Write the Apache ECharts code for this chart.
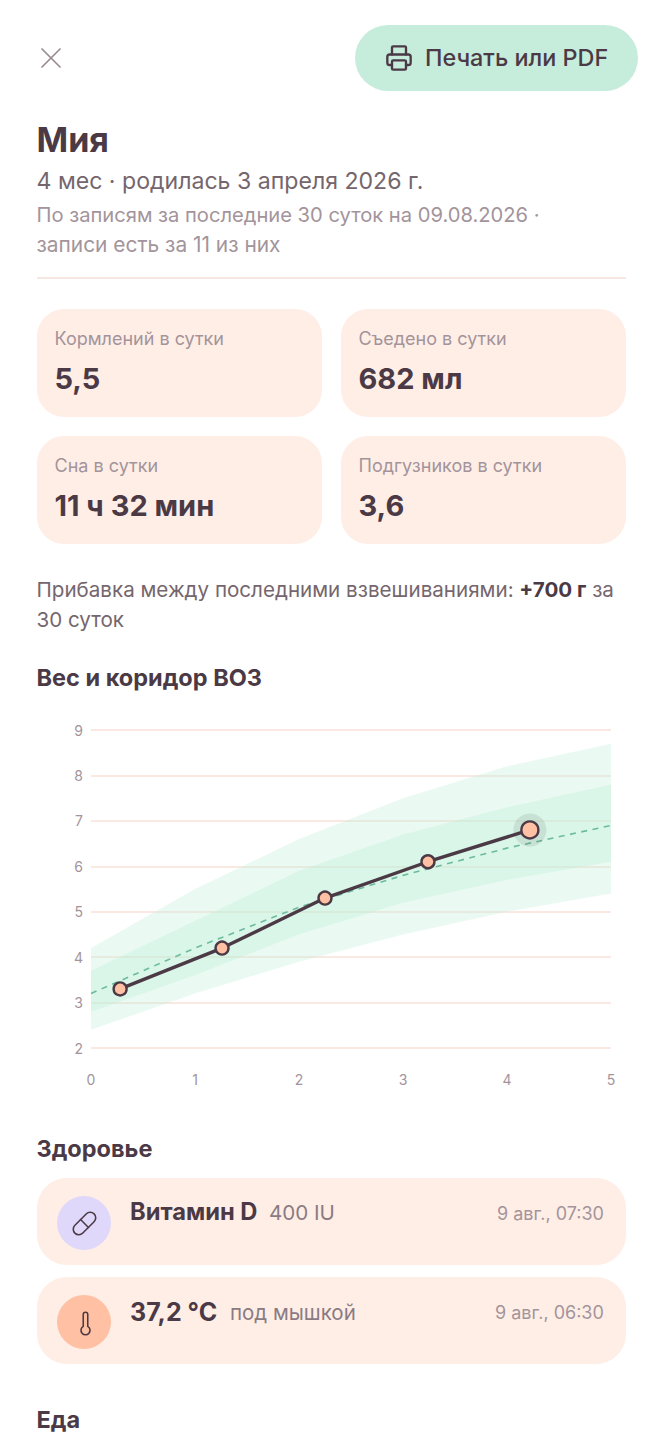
<!DOCTYPE html>
<html lang="ru"><head><meta charset="utf-8">
<script src="https://cdn.jsdelivr.net/npm/echarts@6/dist/echarts.min.js"></script>
<style>
html,body{margin:0;padding:0;background:#fff;width:662px;height:1440px;overflow:hidden;font-family:Inter,"Noto Sans",sans-serif;color:#4b3a45}
.t{position:absolute;white-space:nowrap;line-height:1}
.b{position:absolute;background:#ffeee6}
.card{width:285px;height:108px;border-radius:27px}
.row{left:36.5px;width:589.5px;height:87px;border-radius:30px}
.lab{font-size:18px;color:#a3949b}
.val{font-size:29px;font-weight:700}
.h{font-size:23.5px;font-weight:700}
.sub{font-size:20.15px;color:#a3949b}
.ic{position:absolute;width:54px;height:54px;border-radius:50%;left:57px}
svg.i{position:absolute;fill:none;stroke:#4b3a45;stroke-linecap:round;stroke-linejoin:round}
#chart svg{display:block}
</style></head><body>
<svg class="i" style="left:33px;top:40px;width:36px;height:36px;stroke:#9a8b92;stroke-width:1.15" viewBox="0 0 24 24"><path d="M18 6 6 18M6 6l12 12"/></svg>
<div class="b" style="left:355px;top:25px;width:283px;height:66px;border-radius:33px;background:#c6ecdc"></div>
<svg class="i" style="left:385px;top:44px;width:28px;height:28px;stroke-width:2" viewBox="0 0 24 24"><path d="M6 18H4a2 2 0 0 1-2-2v-5a2 2 0 0 1 2-2h16a2 2 0 0 1 2 2v5a2 2 0 0 1-2 2h-2"/><path d="M6 9V3a1 1 0 0 1 1-1h10a1 1 0 0 1 1 1v6"/><rect x="6" y="14" width="12" height="8" rx="1"/></svg>
<div class="t" style="left:425px;top:46px;font-size:23.4px;font-weight:500">Печать или PDF</div>
<div class="t" style="left:36.5px;top:123px;font-size:34px;font-weight:700">Мия</div>
<div class="t" style="left:36.5px;top:170px;font-size:23.1px;color:#75666d">4 мес · родилась 3 апреля 2026 г.</div>
<div class="t sub" style="left:36.5px;top:205px">По записям за последние 30 суток на 09.08.2026 ·</div>
<div class="t sub" style="left:36.5px;top:235px;font-size:20.9px">записи есть за 11 из них</div>
<div class="b" style="left:36.5px;top:277px;width:589.5px;height:2px;background:#f6e8e0"></div>

<div class="b card" style="left:36.5px;top:309px"></div>
<div class="b card" style="left:340.5px;top:309px"></div>
<div class="b card" style="left:36.5px;top:435.5px"></div>
<div class="b card" style="left:340.5px;top:435.5px"></div>
<div class="t lab" style="left:54.5px;top:330px">Кормлений в сутки</div>
<div class="t val" style="left:54.5px;top:364px">5,5</div>
<div class="t lab" style="left:358.5px;top:330px">Съедено в сутки</div>
<div class="t val" style="left:358.5px;top:364px">682 мл</div>
<div class="t lab" style="left:54.5px;top:457px">Сна в сутки</div>
<div class="t val" style="left:54.5px;top:491px">11 ч 32 мин</div>
<div class="t lab" style="left:358.5px;top:457px">Подгузников в сутки</div>
<div class="t val" style="left:358.5px;top:491px">3,6</div>

<div class="t" style="left:36.5px;top:580px;font-size:20.6px;color:#75666d">Прибавка между последними взвешиваниями: <b style="color:#4b3a45">+700 г</b> за</div>
<div class="t" style="left:36.5px;top:610px;font-size:20.6px;color:#75666d">30 суток</div>
<div class="t h" style="left:36.5px;top:666px">Вес и коридор ВОЗ</div>

<div id="chart" style="position:absolute;left:0;top:710px;width:662px;height:390px"></div>

<div class="t h" style="left:36.5px;top:1137px">Здоровье</div>
<div class="b row" style="top:1178px"></div>
<div class="ic" style="top:1196px;background:#e0d8fa"></div>
<svg class="i" style="left:71px;top:1210px;width:27px;height:27px;stroke-width:1.4" viewBox="0 0 24 24"><path d="m10.5 20.5 10-10a4.95 4.95 0 1 0-7-7l-10 10a4.95 4.95 0 1 0 7 7Z"/><path d="m8.5 8.5 7 7"/></svg>
<div class="t" style="left:130px;top:1200px;font-size:23.7px;font-weight:700">Витамин D</div>
<div class="t" style="left:269px;top:1203px;font-size:20.6px;color:#8a7b82">400 IU</div>
<div class="t" style="left:497px;top:1205px;font-size:18px;color:#a3949b">9 авг., 07:30</div>
<div class="b row" style="top:1277px"></div>
<div class="ic" style="top:1295px;background:#ffc0a3"></div>
<svg class="i" style="left:72px;top:1309.5px;width:27px;height:27px;stroke-width:1.4" viewBox="0 0 24 24"><path d="M14 4v10.54a4 4 0 1 1-4 0V4a2 2 0 0 1 4 0Z"/></svg>
<div class="t" style="left:130px;top:1300px;font-size:25px;font-weight:700">37,2 °C</div>
<div class="t" style="left:230px;top:1303px;font-size:20.5px;color:#8a7b82">под мышкой</div>
<div class="t" style="left:495px;top:1304px;font-size:18px;color:#a3949b">9 авг., 06:30</div>
<div class="t h" style="left:36.5px;top:1408px">Еда</div>

<script>
const months = [0, 1, 2, 3, 4, 5];
const sdMinus2 = [2.4, 3.2, 3.9, 4.5, 5.0, 5.4];
const sdMinus1 = [2.8, 3.6, 4.5, 5.2, 5.7, 6.1];
const median   = [3.2, 4.2, 5.1, 5.8, 6.4, 6.9];
const sdPlus1  = [3.7, 4.8, 5.9, 6.7, 7.3, 7.8];
const sdPlus2  = [4.2, 5.5, 6.6, 7.5, 8.2, 8.7];
const weightAge = [0.28, 1.26, 2.25, 3.24, 4.22];
const weightKg  = [3.3, 4.2, 5.3, 6.1, 6.8];

const chart = echarts.init(document.getElementById('chart'), null, {renderer:'svg'});
const pair = (xs, ys) => xs.map((x, i) => [x, ys[i]]);
const band = (name, lo, hi, color) => ({
  name, type:'custom', silent:true, z:1, clip:true,
  data: months.map((m, i) => [m, lo[i], hi[i]]),
  encode:{x:0, y:[1, 2]},
  renderItem: (params, api) => {
    if (params.dataIndex !== 0) return null;
    const top = months.map((m, i) => api.coord([m, hi[i]]));
    const bot = months.map((m, i) => api.coord([m, lo[i]])).reverse();
    return {type:'polygon', shape:{points: top.concat(bot)}, style:{fill: color}};
  }
});
const last = weightAge.length - 1;
chart.setOption({
  animation:false,
  grid:{left:91, right:51, top:20, bottom:52},
  xAxis:{type:'value', min:0, max:5, interval:1, splitLine:{show:false}, axisLine:{show:false}, axisTick:{show:false},
    axisLabel:{color:'#a3949b', fontSize:14, fontFamily:'Inter', margin:24, hideOverlap:false, showMinLabel:true, showMaxLabel:true}},
  yAxis:{type:'value', min:2, max:9, interval:1, axisLine:{show:false}, axisTick:{show:false},
    splitLine:{lineStyle:{color:'#f8e2da', width:1.5}},
    axisLabel:{color:'#a3949b', fontSize:14, fontFamily:'Inter', margin:8, padding:[3,0,0,0]}},
  series:[
    band('-2 SD', sdMinus2, sdMinus1, 'rgba(185,238,214,0.3)'),
    band('-1…+1 SD', sdMinus1, sdPlus1, 'rgba(185,238,214,0.55)'),
    band('+2 SD', sdPlus1, sdPlus2, 'rgba(185,238,214,0.3)'),
    {name:'Медиана', type:'line', symbol:'none', silent:true, z:2, data:pair(months, median),
      lineStyle:{color:'#6dbb9f', width:1.6, type:[6,5.5]}},
    {name:'Вес', type:'line', symbol:'none', silent:true, z:3, data:pair(weightAge, weightKg),
      lineStyle:{color:'#4b3a45', width:3.4}},
    {name:'halo', type:'scatter', silent:true, z:4, data:[[weightAge[last], weightKg[last]]], symbolSize:33,
      itemStyle:{color:'rgba(74,58,66,0.115)', opacity:1}},
    {name:'Точки', type:'scatter', silent:true, z:5, data:pair(weightAge, weightKg),
      symbolSize:(v, p) => p.dataIndex === last ? 17 : 13,
      itemStyle:{color:'#ffc0a3', borderColor:'#4b3a45', borderWidth:2.4, opacity:1}}
  ]
});
</script>
</body></html>
